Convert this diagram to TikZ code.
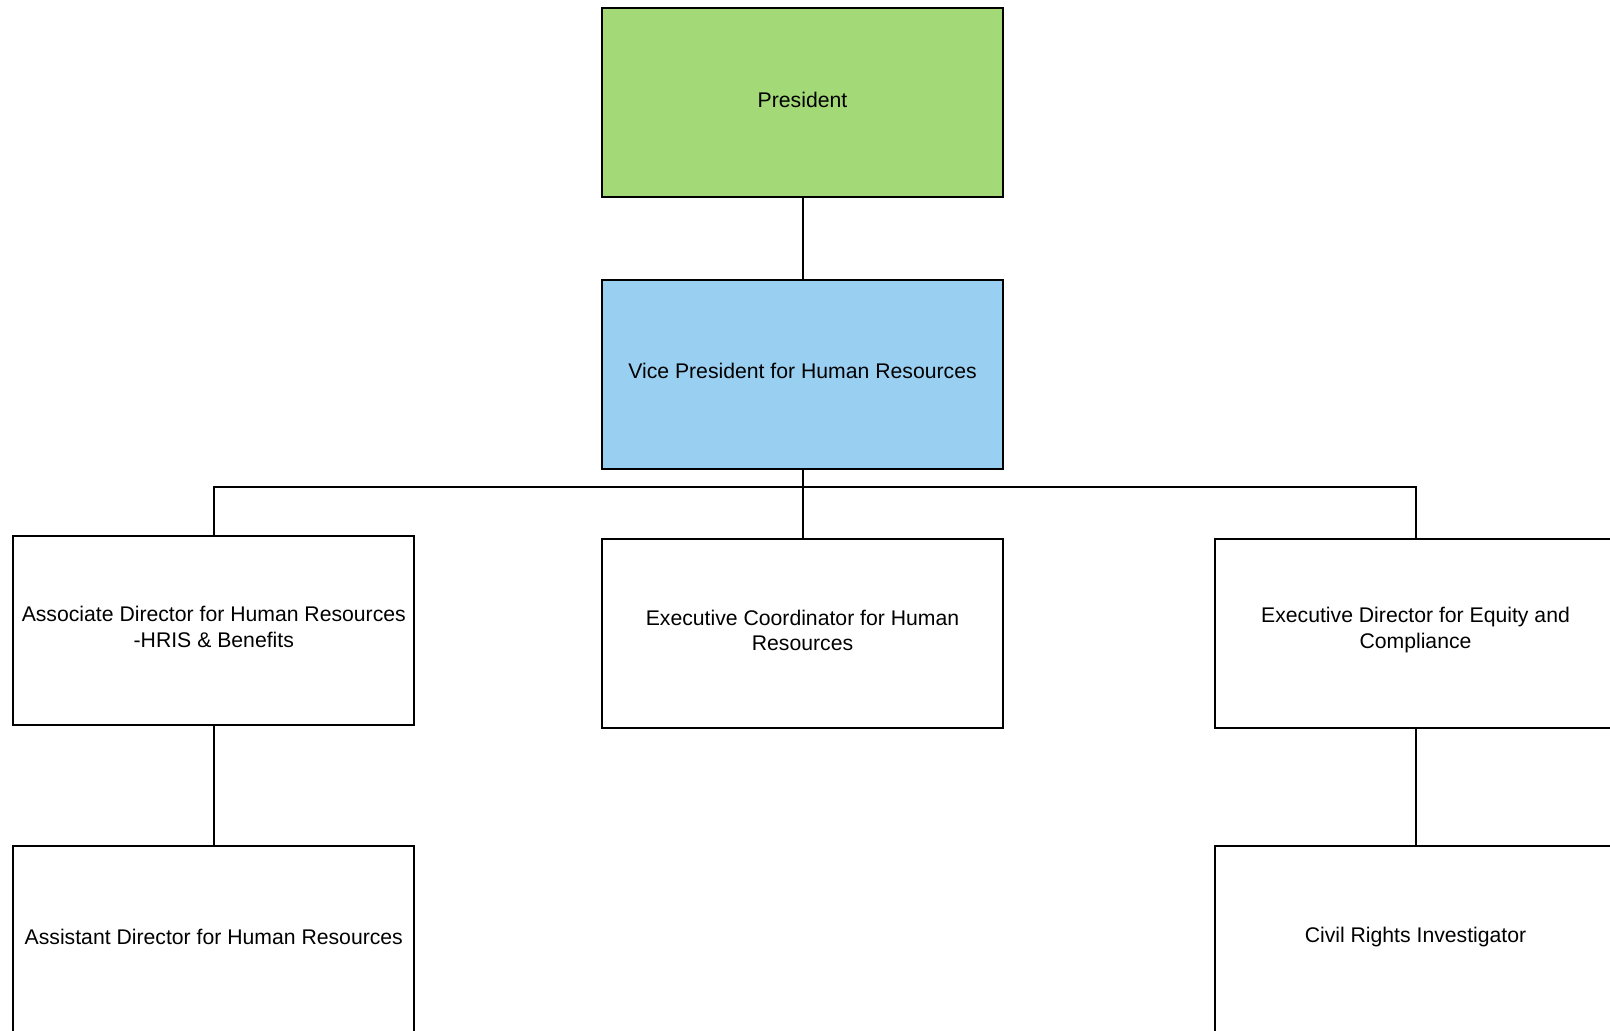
\documentclass[tikz,border=0pt]{standalone}
\usepackage{fontspec}
\setmainfont{Liberation Sans}
\definecolor{presgreen}{HTML}{A3D977}
\definecolor{vpblue}{HTML}{99D0F2}
\begin{document}
\begin{tikzpicture}[x=1pt,y=1pt,
  box/.style={draw=black, line width=2pt, rectangle, minimum width=401pt, minimum height=189pt, inner sep=0pt},
  txt/.style={align=center, font=\fontsize{21.2}{25.7}\selectfont, inner sep=0pt},
  link/.style={draw=black, line width=2pt}]
\useasboundingbox (0,0) rectangle (1610,-1031);
\clip (0,0) rectangle (1610,-1031);
\node[box, fill=presgreen] (pres) at (802.5,-102.5) {};
\node[box, fill=vpblue] (vp) at (802.5,-374) {};
\node[box, fill=white] (assoc) at (213.8,-630) {};
\node[box, fill=white] (coord) at (802.5,-633.5) {};
\node[box, fill=white] (edir) at (1415.5,-633.3) {};
\node[box, fill=white] (asst) at (213.8,-940) {};
\node[box, fill=white] (civil) at (1415.5,-940) {};
\node[txt] (presT) at ([yshift=3pt]pres.center) {President};
\node[txt] (vpT) at ([yshift=3pt]vp.center) {Vice President for Human Resources};
\node[txt] (assocT) at ([yshift=3pt]assoc.center) {Associate Director for Human Resources\\-HRIS \& Benefits};
\node[txt] (coordT) at ([yshift=3pt]coord.center) {Executive Coordinator for Human\\Resources};
\node[txt] (edirT) at ([yshift=3pt]edir.center) {Executive Director for Equity and\\Compliance};
\node[txt] (asstT) at ([yshift=3pt]asst.center) {Assistant Director for Human Resources};
\node[txt] (civilT) at ([yshift=3pt]civil.center) {Civil Rights Investigator};
\coordinate (bus) at (802.5,-487);
\draw[link] (pres.south) -- (vp.north);
\draw[link] (vp.south) -- (coord.north);
\draw[link] (assoc.north) |- (bus) -| (edir.north);
\draw[link] (assoc.south) -- (asst.north);
\draw[link] (edir.south) -- (civil.north);
\end{tikzpicture}
\end{document}
